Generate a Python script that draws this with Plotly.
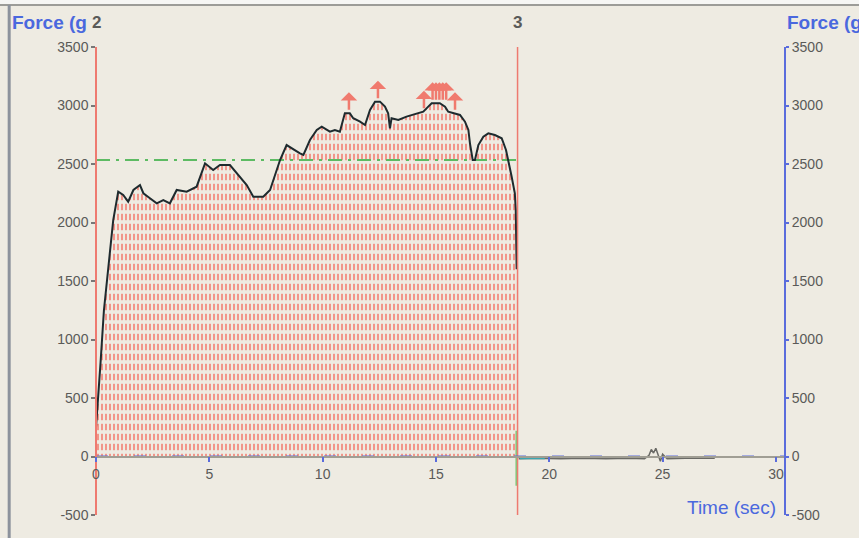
import plotly.graph_objects as go

# ---- data ----
time_s = [0.0, 0.1, 0.2, 0.35, 0.54, 0.76, 0.98, 1.2, 1.42, 1.65, 1.94, 2.09, 2.38, 2.68, 2.97,
          3.26, 3.56, 4.0, 4.44, 4.59, 4.81, 5.17, 5.47, 5.91, 6.35, 6.65, 6.94, 7.38, 7.68,
          8.12, 8.41, 8.63, 9.0, 9.15, 9.44, 9.74, 9.96, 10.32, 10.54, 10.76, 10.98, 11.2,
          11.35, 11.65, 11.87, 12.09, 12.31, 12.53, 12.75, 12.89, 12.97, 13.04, 13.34, 13.7,
          14.14, 14.44, 14.66, 14.81, 15.17, 15.4, 15.54, 15.76, 16.06, 16.28, 16.43, 16.5,
          16.62, 16.72, 16.87, 17.09, 17.31, 17.6, 17.9, 18.09, 18.19, 18.34, 18.48, 18.52,
          18.56, 18.6]
force_g = [250, 500, 800, 1250, 1594, 2021, 2263, 2235, 2178, 2278, 2320, 2250, 2207, 2164, 2192,
           2164, 2278, 2263, 2306, 2391, 2506, 2449, 2491, 2491, 2391, 2320, 2220, 2220, 2278,
           2534, 2662, 2634, 2591, 2577, 2705, 2791, 2819, 2776, 2791, 2776, 2933, 2933,
           2891, 2862, 2833, 2962, 3033, 3033, 2990, 2933, 2805, 2891, 2876, 2905,
           2933, 2947, 2990, 3019, 3019, 2990, 2947, 2933, 2919, 2862, 2791, 2677,
           2534, 2534, 2662, 2733, 2762, 2748, 2720, 2620, 2534, 2391, 2250, 2107,
           1600, 0]

post_time = [18.65, 19.5, 20.5, 21.5, 22.5, 23.5, 24.2, 24.4, 24.5, 24.6, 24.7, 24.8, 24.9,
             25.0, 25.2, 26.0, 27.3]
post_force = [-20, -15, -20, -15, -20, -15, -20, 10, 60, 30, 70, 20, -40, 20, -20, -15, -15]

avg_force = 2534          # green dash-dot level
marker_2 = 0.0            # label "2"
marker_3 = 18.6           # label "3" / end of test

peak_time = [11.16, 12.44, 14.47, 14.85, 15.0, 15.15, 15.3, 15.45, 15.84]
peak_force = [2933, 3033, 2947, 3019, 3019, 3019, 3019, 3019, 2933]

x_ticks = [0, 5, 10, 15, 20, 25, 30]
y_ticks = [-500, 0, 500, 1000, 1500, 2000, 2500, 3000, 3500]
y_ticktext = ['-500', '0', '500', '1000', '1500', '2000', '2500', '3000', '3500']

BG = '#EEEBE2'
RED = '#EE7A70'
BLUE = '#5A6CDC'
GRAY = '#5A5A58'
FONT = 'Liberation Sans, Arial, sans-serif'

fig = go.Figure()

# patterned fill: vertical salmon lines ...
fig.add_trace(go.Scatter(x=time_s, y=force_g, mode='lines', line=dict(width=0),
                         fill='tozeroy', fillcolor='rgba(0,0,0,0)',
                         fillpattern=dict(shape='|', size=4, solidity=0.42, fgcolor='#F2857A',
                                          bgcolor='rgba(0,0,0,0)', fgopacity=1),
                         hoverinfo='skip', showlegend=False))
# ... broken into short dashes by horizontal background bands
fig.add_trace(go.Scatter(x=time_s, y=force_g, mode='lines', line=dict(width=0),
                         fill='tozeroy', fillcolor='rgba(0,0,0,0)',
                         fillpattern=dict(shape='-', size=10, solidity=0.36, fgcolor=BG,
                                          bgcolor='rgba(0,0,0,0)', fgopacity=1),
                         hoverinfo='skip', showlegend=False))

# blue dashed baseline
fig.add_trace(go.Scatter(x=[0, 30.4], y=[0, 0], mode='lines', yaxis='y2',
                         line=dict(color=BLUE, width=2, dash='12px,26px'),
                         hoverinfo='skip', showlegend=False))

# green average dash-dot
fig.add_trace(go.Scatter(x=[0, marker_3], y=[avg_force, avg_force], mode='lines',
                         line=dict(color='#5DBB63', width=2, dash='14px,6px,3px,6px'),
                         hoverinfo='skip', showlegend=False))

# post-test trace
fig.add_trace(go.Scatter(x=post_time, y=post_force, mode='lines',
                         line=dict(color='#6A6A66', width=1.5),
                         hoverinfo='skip', showlegend=False))
fig.add_trace(go.Scatter(x=[18.7, 19.8], y=[-15, -15], mode='lines',
                         line=dict(color='#3AA6B0', width=2),
                         hoverinfo='skip', showlegend=False))
fig.add_trace(go.Scatter(x=[marker_3 - 0.05, marker_3 - 0.05], y=[220, -250], mode='lines',
                         line=dict(color='#7CCB7C', width=2),
                         hoverinfo='skip', showlegend=False))

# main force curve
fig.add_trace(go.Scatter(x=time_s[:-1], y=force_g[:-1], mode='lines',
                         line=dict(color='#1E2A2E', width=2),
                         hoverinfo='skip', showlegend=False))

# red marker line at end of test
fig.add_trace(go.Scatter(x=[marker_3, marker_3], y=[-500, 3500], mode='lines',
                         line=dict(color=RED, width=1.5),
                         hoverinfo='skip', showlegend=False))

annotations = []
for t, f in zip(peak_time, peak_force):
    annotations.append(dict(x=t, y=f, xref='x', yref='y', text='', showarrow=True,
                            arrowhead=1, arrowsize=1.1, arrowwidth=2.5, arrowcolor='#F07A6E',
                            ax=0, ay=19, yshift=21))

annotations += [
    dict(x=-0.125, y=1.053, xref='paper', yref='paper', text='<b>Force (g</b>', showarrow=False,
         xanchor='left', yanchor='middle', font=dict(family=FONT, size=19, color='#4A68DE')),
    dict(x=1.0, y=1.053, xref='paper', yref='paper', text='<b>Force (g)</b>', showarrow=False,
         xanchor='left', yanchor='middle', font=dict(family=FONT, size=19, color='#4A68DE')),
    dict(x=marker_2, y=1.053, xref='x', yref='paper', text='<b>2</b>', showarrow=False,
         xanchor='center', yanchor='middle', font=dict(family=FONT, size=17, color=GRAY)),
    dict(x=marker_3, y=1.053, xref='x', yref='paper', text='<b>3</b>', showarrow=False,
         xanchor='center', yanchor='middle', font=dict(family=FONT, size=17, color=GRAY)),
    dict(x=0.99, y=0.017, xref='paper', yref='paper', text='Time (sec)', showarrow=False,
         xanchor='right', yanchor='middle', font=dict(family=FONT, size=19, color='#4A68DE')),
]

fig.update_layout(
    width=859, height=538,
    margin=dict(l=96, r=74, t=47, b=23, autoexpand=False),
    paper_bgcolor=BG, plot_bgcolor=BG,
    font=dict(family=FONT, size=14, color=GRAY),
    showlegend=False,
    xaxis=dict(range=[0, 30.4], anchor='free', position=0.125, showgrid=False, zeroline=False,
               automargin=False,
               showline=True, linecolor='#A09E94', linewidth=1.5,
               tickvals=x_ticks, ticks='outside', ticklen=5, tickcolor=BLUE, tickwidth=1.5,
               tickfont=dict(family=FONT, size=14, color=GRAY)),
    yaxis=dict(range=[-500, 3500], anchor='free', position=0, showgrid=False, zeroline=False,
               automargin=False,
               showline=True, linecolor=RED, linewidth=1.5,
               tickvals=y_ticks, ticktext=y_ticktext, ticks='outside', ticklen=4,
               tickcolor='#777', tickwidth=1.5, ticklabelstandoff=0,
               tickfont=dict(family=FONT, size=14, color=GRAY)),
    yaxis2=dict(range=[-500, 3500], overlaying='y', side='right', anchor='free', position=1,
                automargin=False,
                showgrid=False, zeroline=False, showline=True, linecolor=BLUE, linewidth=2,
                tickvals=y_ticks, ticktext=y_ticktext, ticks='outside', ticklen=3,
                tickcolor=BLUE, tickwidth=1.5,
                tickfont=dict(family=FONT, size=14, color=GRAY)),
    annotations=annotations,
    shapes=[
        dict(type='rect', xref='paper', yref='paper', x0=-0.2, x1=1.2, y0=1.09, y1=1.2,
             fillcolor='#F6F6F4', line=dict(width=0), layer='below'),
        dict(type='line', xref='paper', yref='paper', x0=-0.2, x1=1.2, y0=1.09, y1=1.09,
             line=dict(color='#9C9C98', width=2)),
        dict(type='line', xref='paper', yref='paper', x0=-0.126, x1=-0.126, y0=-0.1, y1=1.09,
             line=dict(color='#8C929C', width=3)),
    ],
)

fig.write_html('out.html', config={'displayModeBar': False},
               post_script="document.body.style.margin='0';document.body.style.overflow='hidden';")
